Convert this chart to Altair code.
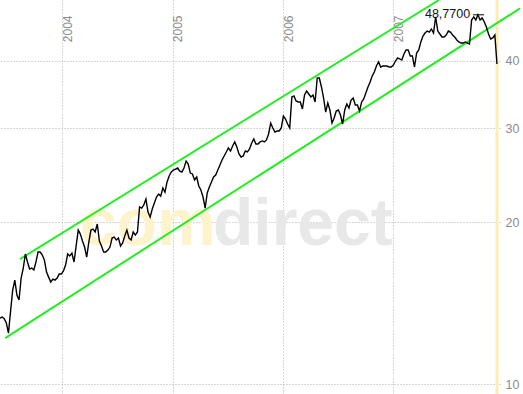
import altair as alt
import pandas as pd

# weekly closing prices (start 2003-06-09, 7-day step)
start_date = "2003-06-09"
prices = [
    13.27, 13.33, 13.24, 12.99, 12.44, 13.67, 14.97, 15.62, 14.65, 14.34,
    15.76, 16.45, 17.47, 16.88, 16.38, 16.45, 16.31, 16.88, 17.62, 17.62,
    17.39, 17.02, 16.17, 15.82, 15.49, 15.69, 15.62, 15.76, 16.03, 16.03,
    16.24, 16.66, 17.47, 17.32, 17.54, 16.88, 18.08, 19.36, 19.03, 18.47,
    18.00, 17.24, 18.39, 19.36, 19.44, 19.20, 19.87, 18.47, 18.08, 17.62,
    17.62, 17.77, 18.00, 18.71, 18.79, 18.55, 18.71, 18.08, 18.32, 18.87,
    19.36, 18.71, 18.55, 19.20, 18.95, 19.20, 21.38, 21.28, 21.56, 22.11,
    20.92, 20.47, 21.19, 21.74, 22.31, 22.60, 22.40, 23.19, 22.79, 23.80,
    24.42, 24.84, 25.05, 25.16, 25.27, 24.94, 24.84, 25.27, 26.04, 25.71,
    24.73, 24.63, 24.00, 24.31, 23.39, 22.99, 22.31, 21.28, 22.70, 23.29,
    23.80, 24.31, 24.52, 25.05, 25.60, 26.15, 26.61, 27.07, 27.54, 27.18,
    27.77, 28.26, 27.65, 26.84, 26.49, 26.61, 27.18, 27.07, 27.42, 28.13,
    28.62, 28.01, 28.01, 28.26, 28.38, 28.26, 28.50, 29.24, 30.65, 30.01,
    29.49, 29.62, 29.62, 30.01, 31.58, 31.18, 30.52, 30.01, 34.28, 34.42,
    33.69, 33.55, 33.55, 32.55, 34.57, 35.17, 34.72, 34.28, 34.57, 33.55,
    37.19, 37.19, 35.78, 34.13, 32.13, 33.40, 32.41, 30.65, 31.31, 32.27,
    32.41, 31.72, 30.52, 32.41, 33.26, 32.69, 33.83, 34.13, 33.12, 33.12,
    32.27, 33.55, 33.98, 34.87, 35.78, 36.55, 37.51, 38.15, 39.15, 39.83,
    38.98, 39.15, 39.15, 39.15, 38.98, 38.98, 39.32, 40.00, 40.52, 40.35,
    40.17, 41.22, 41.93, 41.93, 40.87, 40.87, 38.98, 41.40, 41.93, 43.40,
    44.53, 45.10, 45.49, 45.29, 45.89, 45.10, 48.32, 45.49, 44.91, 44.34,
    44.34, 44.72, 45.49, 45.29, 44.72, 44.34, 43.77, 43.40, 43.21, 43.21,
    43.40, 43.21, 43.03, 47.70, 48.32, 47.70, 48.77, 47.70, 48.11, 47.29,
    46.28, 44.91, 43.96, 44.15, 44.72, 39.49,
]

# trend channel end points
upper_dates = ["2003-08-14", "2007-06-01"]
upper_values = [17.09, 51.97]
lower_dates = ["2003-06-26", "2008-02-24"]
lower_values = [12.18, 50.12]

# maximum annotation
max_label = "48,7700"
max_value = 48.77
max_mark_dates = ["2007-09-22", "2007-10-28"]

year_ticks = [2004, 2005, 2006, 2007]
y_ticks = [10, 20, 30, 40]
x_domain = [(2003, 6, 9), (2007, 12, 20)]
y_domain = [9.58, 51.97]

GRID = "#b0b0b0"
LABEL = "#8c8c8c"
FONT = "Liberation Sans"

df = pd.DataFrame({"date": pd.date_range(start_date, periods=len(prices), freq="7D"),
                   "price": prices})
upper_df = pd.DataFrame({"date": pd.to_datetime(upper_dates), "price": upper_values})
lower_df = pd.DataFrame({"date": pd.to_datetime(lower_dates), "price": lower_values})
last_df = df.tail(1)[["date"]]
max_df = pd.DataFrame({"date": [pd.to_datetime(max_mark_dates[0])],
                       "date2": [pd.to_datetime(max_mark_dates[1])],
                       "price": [max_value], "label": [max_label]})

xscale = alt.Scale(domain=[alt.DateTime(year=y, month=m, date=d) for (y, m, d) in x_domain], nice=False)
yscale = alt.Scale(type="log", domain=y_domain, nice=False)

xaxis = alt.Axis(orient="top", values=[alt.DateTime(year=y, month=1, date=1) for y in year_ticks],
                 format="%Y", labelAngle=270, labelAlign="right", labelBaseline="top",
                 offset=-15, labelPadding=0, ticks=False, domain=False, grid=True,
                 gridColor=GRID, gridDash=[1, 2], gridWidth=1, title=None,
                 labelColor=LABEL, labelFont=FONT, labelFontSize=12)
yaxis = alt.Axis(orient="right", values=y_ticks, format="d", ticks=False, domain=False,
                 grid=True, gridColor=GRID, gridDash=[1, 2], gridWidth=1, title=None,
                 labelPadding=5, labelColor=LABEL, labelFont=FONT, labelFontSize=12.5)

X = alt.X("date:T", scale=xscale, axis=xaxis, title=None)
Y = alt.Y("price:Q", scale=yscale, axis=yaxis, title=None)

wm_com = alt.Chart(pd.DataFrame({"t": ["com"]})).mark_text(
    font=FONT, fontSize=66, fontWeight="bold", color="#fff3cc", align="left", baseline="alphabetic"
).encode(text="t:N", x=alt.value(80), y=alt.value(245))
wm_direct = alt.Chart(pd.DataFrame({"t": ["direct"]})).mark_text(
    font=FONT, fontSize=66, fontWeight="bold", color="#e8e8e8", align="left", baseline="alphabetic"
).encode(text="t:N", x=alt.value(213), y=alt.value(245))

today = alt.Chart(last_df).mark_rule(color="#ffecb3", strokeWidth=3).encode(
    x=X, y=alt.value(0), y2=alt.value(394))

upper = alt.Chart(upper_df).mark_line(color="#22ee22", strokeWidth=2).encode(x=X, y=Y)
lower = alt.Chart(lower_df).mark_line(color="#22ee22", strokeWidth=2).encode(x=X, y=Y)

price_line = alt.Chart(df).mark_line(color="#000000", strokeWidth=1.4).encode(x=X, y=Y)

max_rule = alt.Chart(max_df).mark_rule(color="#000000", strokeWidth=1).encode(
    x=X, x2="date2:T", y=Y)
max_text = alt.Chart(max_df).mark_text(
    font=FONT, fontSize=12.5, color="#111111", align="right", baseline="middle", dx=-3, dy=-1
).encode(x=X, y=Y, text="label:N")

chart = alt.layer(wm_com, wm_direct, today, upper, lower, price_line, max_rule, max_text).properties(
    width=500, height=394,
    autosize=alt.AutoSizeParams(type="none"),
    padding={"left": 0, "top": 0, "right": 23, "bottom": 0},
    background="white",
).configure_view(strokeWidth=0)

chart.save("out.html", embed_options={"renderer": "svg", "actions": False})
